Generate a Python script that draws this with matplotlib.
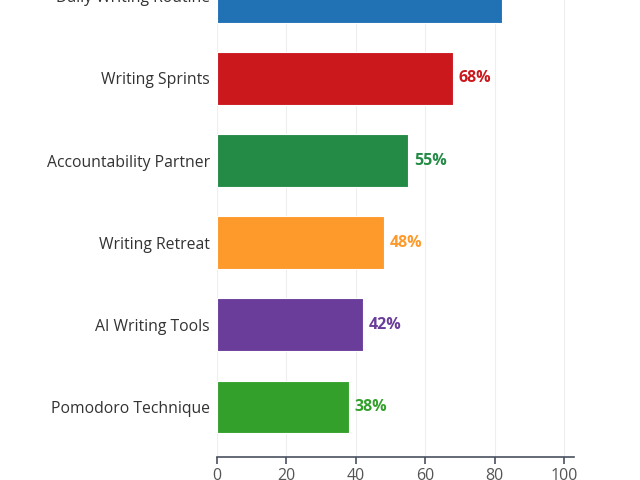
import matplotlib
matplotlib.use("Agg")
import matplotlib.pyplot as plt

categories = ["Daily Writing Routine", "Writing Sprints", "Accountability Partner",
              "Writing Retreat", "AI Writing Tools", "Pomodoro Technique"]
values = [82, 68, 55, 48, 42, 38]
colors = ["#2171b5", "#cb181d", "#238b45", "#fd9a2b", "#6a3d9a", "#33a02c"]
xticks = [0, 20, 40, 60, 80, 100]

plt.rcParams['font.family'] = ['Open Sans', 'DejaVu Sans']

fig = plt.figure(figsize=(6.4, 4.8), dpi=100)
ax = fig.add_axes([217/640, 23/480, 357.4/640, 510/480])

n = len(categories)
ypos = [n - 1 - i for i in range(n)]
ax.barh(ypos, values, height=0.64, color=colors, edgecolor="white", linewidth=0.8, zorder=3)
for y, v, c in zip(ypos, values, colors):
    ax.text(v + 1.7, y, f"{v}%", va="center", ha="left", fontsize=11.5,
            fontweight="bold", color=c, zorder=4)

ax.set_yticks(ypos)
ax.set_yticklabels(categories, fontsize=11.3, color="#333333")
ax.set_xticks(xticks)
ax.set_xticklabels([str(t) for t in xticks], fontsize=11.5, color="#555555")
ax.set_xlim(0, 103)
ax.set_ylim(-0.61, 5.6)
ax.grid(axis="x", color="#eeeeee", linewidth=0.8, zorder=0)
for s in ["top", "right", "left"]:
    ax.spines[s].set_visible(False)
ax.spines["bottom"].set_color("#4a5060")
ax.spines["bottom"].set_linewidth(1.2)
ax.tick_params(axis="y", length=0, pad=5)
ax.tick_params(axis="x", length=5, width=1.2, color="#4a5060", pad=3)

fig.savefig("out.png", dpi=100)
